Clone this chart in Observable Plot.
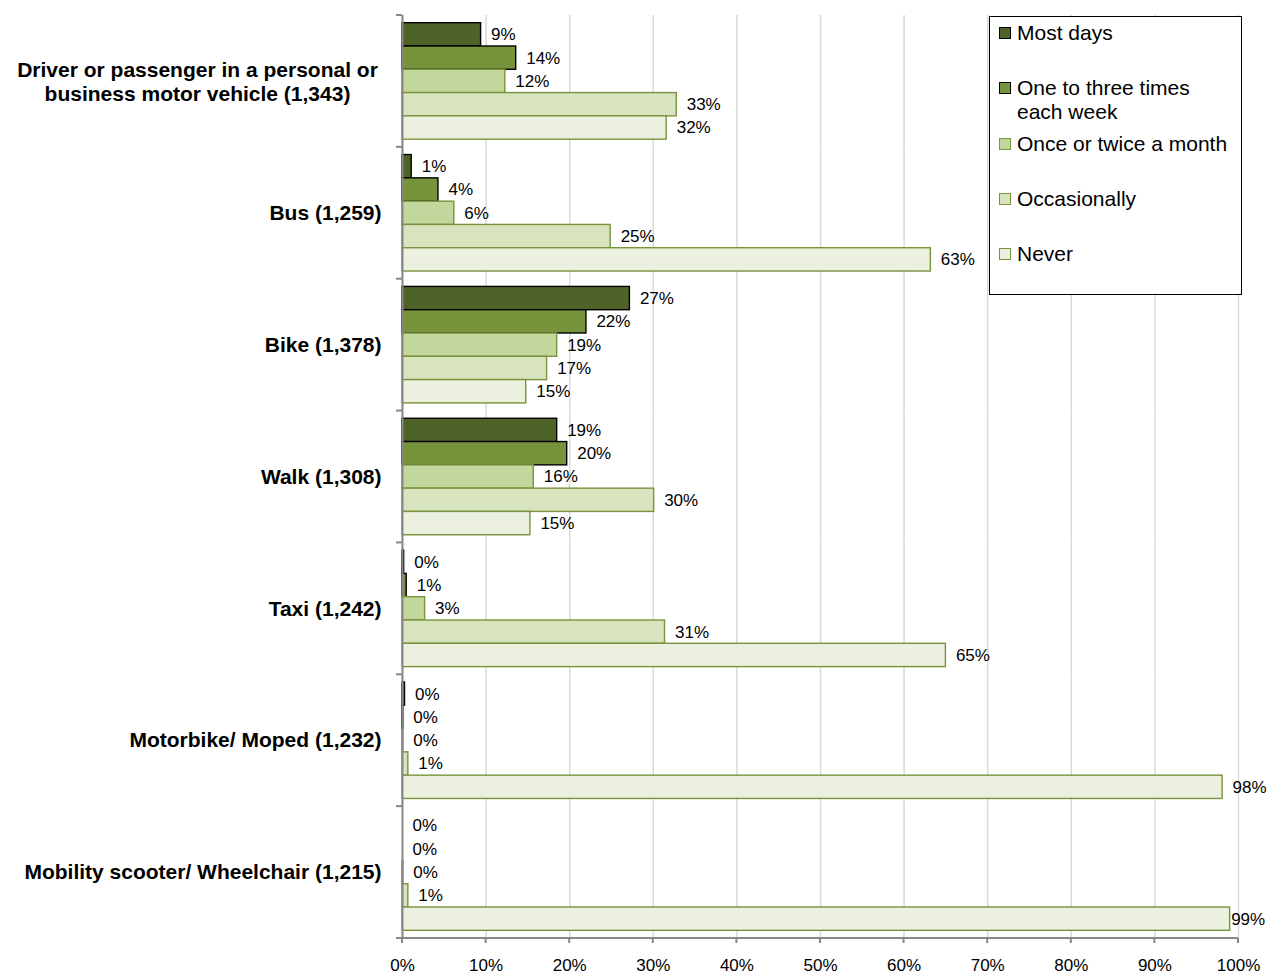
<!DOCTYPE html>
<html><head><meta charset="utf-8">
<script src="https://cdn.jsdelivr.net/npm/d3@7"></script>
<script src="https://cdn.jsdelivr.net/npm/@observablehq/plot@0.6"></script>
<style>
body{margin:0;background:#fff;font-family:Arial,"Liberation Sans",sans-serif;}
#wrap{position:relative;width:1267px;height:974px;}
#legend{position:absolute;left:989px;top:16px;width:253px;height:279px;border:1px solid #000;box-sizing:border-box;background:#fff;}
.item{position:absolute;left:27px;font-size:21px;line-height:24px;white-space:pre;color:#000;}
.sw{position:absolute;left:9px;width:12px;height:12px;box-sizing:border-box;border:1.5px solid #000;}
</style></head><body><div id="wrap"></div>
<script>
// ---- data ----
const categories = [
  "Driver or passenger in a personal or business motor vehicle (1,343)",
  "Bus (1,259)",
  "Bike (1,378)",
  "Walk (1,308)",
  "Taxi (1,242)",
  "Motorbike/ Moped (1,232)",
  "Mobility scooter/ Wheelchair (1,215)"
];
const categoryLabels = [
  "Driver or passenger in a personal or\nbusiness motor vehicle (1,343)",
  "Bus (1,259)",
  "Bike (1,378)",
  "Walk (1,308)",
  "Taxi (1,242)",
  "Motorbike/ Moped (1,232)",
  "Mobility scooter/ Wheelchair (1,215)"
];
const series = ["Most days", "One to three times each week", "Once or twice a month", "Occasionally", "Never"];
const legendLabels = ["Most days", "One to three times\neach week", "Once or twice a month", "Occasionally", "Never"];
const mostDays     = [9.4, 1.1, 27.2, 18.5, 0.2, 0.3, 0];
const oneToThree   = [13.6, 4.3, 22.0, 19.7, 0.5, 0.1, 0];
const onceTwice    = [12.3, 6.2, 18.5, 15.7, 2.7, 0.1, 0.1];
const occasionally = [32.8, 24.9, 17.3, 30.1, 31.4, 0.7, 0.7];
const never        = [31.6, 63.2, 14.8, 15.3, 65.0, 98.1, 99.0];
const xTicks = [0, 10, 20, 30, 40, 50, 60, 70, 80, 90, 100];
const fills   = ["#4F6228", "#77933C", "#C3D69B", "#D7E4BD", "#EBF1DE"];
const strokes = ["#000000", "#000000", "#77933C", "#77933C", "#77933C"];

const seriesValues = [mostDays, oneToThree, onceTwice, occasionally, never];
const data = [];
categories.forEach((c, i) => series.forEach((s, j) => data.push({category: c, series: s, value: seriesValues[j][i], si: j})));
const labelOf = new Map(categories.map((c, i) => [c, categoryLabels[i]]));

const font = 'Arial, "Liberation Sans", sans-serif';
const chart = Plot.plot({
  width: 1267, height: 974,
  marginLeft: 402, marginRight: 29, marginTop: 15, marginBottom: 36,
  style: {fontFamily: font, background: "#fff", color: "#000"},
  x: {domain: [0, 100], axis: null, label: null},
  y: {domain: series, axis: null, paddingInner: 0, paddingOuter: 0.33, round: false},
  fy: {domain: categories, padding: 0, axis: null, round: false},
  color: {type: "identity"},
  marks: [
    Plot.gridX(xTicks, {stroke: "#d9d9d9", strokeOpacity: 1, strokeWidth: 1.5}),
    Plot.barX(data, {x: "value", y: "series", fy: "category", fill: d => fills[d.si], stroke: d => strokes[d.si], strokeWidth: 1.4}),
    Plot.text(data.filter(d => d.value < 99), {x: "value", y: "series", fy: "category", text: d => Math.round(d.value) + "%", dx: 10, textAnchor: "start", fontSize: 17, fill: "#000"}),
    Plot.text(data.filter(d => d.value >= 99), {x: "value", y: "series", fy: "category", text: d => Math.round(d.value) + "%", dx: 1, textAnchor: "start", fontSize: 17, fill: "#000"}),
    Plot.ruleX([0], {stroke: "#888", strokeWidth: 2}),
    Plot.text(categories.slice(1), {fy: d => d, frameAnchor: "left", dx: -21, textAnchor: "end", fontSize: 21, fontWeight: "bold", fill: "#000", text: d => labelOf.get(d)}),
    Plot.text(categories.slice(0, 1), {fy: d => d, frameAnchor: "left", dx: -205, textAnchor: "middle", lineHeight: 1.15, fontSize: 21, fontWeight: "bold", fill: "#000", text: d => labelOf.get(d)}),
    Plot.axisX(xTicks, {anchor: "bottom", tickSize: 0, tickPadding: 20, fontSize: 17, label: null, tickFormat: d => d + "%"})
  ]
});

// axis line and boundary ticks (from the scales)
const xs = chart.scale("x"), fys = chart.scale("fy");
const x0 = xs.apply(0), x1 = xs.apply(100);
const bottom = fys.apply(categories[categories.length - 1]) + fys.bandwidth;
const g = d3.select(chart).append("g").attr("stroke", "#888").attr("stroke-width", 2);
g.append("line").attr("x1", x0).attr("x2", x1).attr("y1", bottom).attr("y2", bottom);
xTicks.forEach(t => g.append("line").attr("x1", xs.apply(t)).attr("x2", xs.apply(t)).attr("y1", bottom).attr("y2", bottom + 5));
categories.forEach(c => g.append("line").attr("x1", x0 - 6).attr("x2", x0).attr("y1", fys.apply(c)).attr("y2", fys.apply(c)));
g.append("line").attr("x1", x0 - 6).attr("x2", x0).attr("y1", bottom).attr("y2", bottom);

const wrap = document.getElementById("wrap");
wrap.appendChild(chart);

// legend
const legend = document.createElement("div");
legend.id = "legend";
series.forEach((s, i) => {
  const cy = 16 + 55.3 * i;
  const sw = document.createElement("div");
  sw.className = "sw";
  sw.style.top = (cy - 6) + "px";
  sw.style.background = fills[i];
  sw.style.borderColor = i < 2 ? "#000" : "#77933C";
  legend.appendChild(sw);
  const t = document.createElement("div");
  t.className = "item";
  t.style.top = (cy - 12) + "px";
  t.textContent = legendLabels[i];
  legend.appendChild(t);
});
wrap.appendChild(legend);
</script>
</body></html>
